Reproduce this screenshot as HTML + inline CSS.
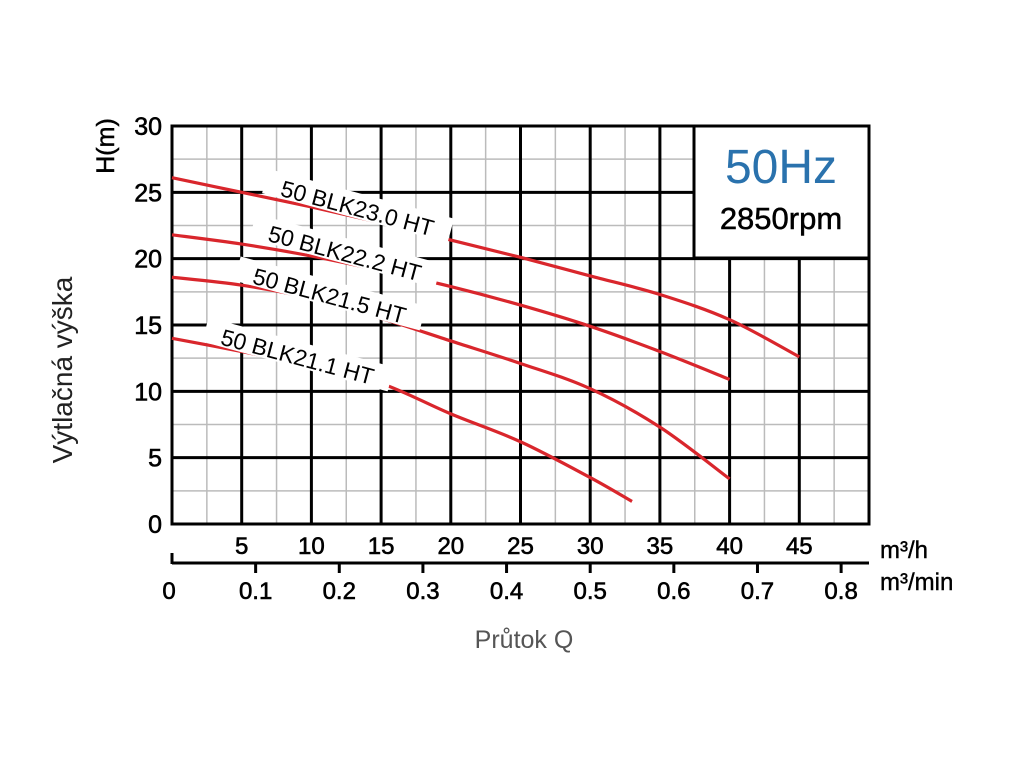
<!DOCTYPE html>
<html><head><meta charset="utf-8"><style>
body{margin:0;background:#fff}
svg{display:block;font-family:"Liberation Sans",Arial,sans-serif}
</style></head><body>
<svg id="chart" width="1024" height="768" viewBox="0 0 1024 768" xmlns="http://www.w3.org/2000/svg">
<g id="grid"></g>
<rect x="694" y="126" width="175" height="132" fill="#fff" stroke="#000" stroke-width="3"/>
<text x="781" y="183" text-anchor="middle" font-size="48" fill="#2a72ad">50Hz</text>
<text x="781" y="229" text-anchor="middle" font-size="31" fill="#000" stroke="#000" stroke-width="0.5">2850rpm</text>
<g id="curves"></g>
<g id="labels"></g>
<g id="axes"></g>
<text transform="translate(114,146) rotate(-90)" text-anchor="middle" font-size="25" fill="#000" stroke="#000" stroke-width="0.5">H(m)</text>
<text transform="translate(72,370) rotate(-90)" text-anchor="middle" font-size="28" fill="#222">Výtlačná výška</text>
<text x="524" y="648" text-anchor="middle" font-size="25" fill="#555">Průtok Q</text>
<text x="880" y="558" font-size="24" fill="#000" stroke="#000" stroke-width="0.4">m³/h</text>
<text x="880" y="590" font-size="24" fill="#000" stroke="#000" stroke-width="0.4">m³/min</text>
</svg>
<script>
const flowLabels=[5,10,15,20,25,30,35,40,45];
const headLabels=[0,5,10,15,20,25,30];
const minLabels=["0","0.1","0.2","0.3","0.4","0.5","0.6","0.7","0.8"];
const minValues=[0,0.1,0.2,0.3,0.4,0.5,0.6,0.7,0.8];
const names=["50 BLK23.0 HT","50 BLK22.2 HT","50 BLK21.5 HT","50 BLK21.1 HT"];
const q23=[0,5,10,15,20,25,30,35,40,45];
const h23=[26.1,25.0,23.9,22.7,21.4,20.1,18.7,17.3,15.4,12.6];
const q222=[0,5,10,15,20,25,30,35,40];
const h222=[21.8,21.1,20.2,19.1,17.9,16.5,14.9,13.0,10.9];
const q215=[0,5,10,15,20,25,30,35,40];
const h215=[18.6,18.0,17.0,15.5,13.8,12.1,10.2,7.3,3.4];
const q211=[0,5,10,15,20,25,30,33];
const h211=[14.0,13.0,11.9,10.6,8.3,6.2,3.5,1.7];
const labelPos=[[13.3,23.8],[12.4,20.4],[11.3,17.2],[9.0,12.6]];

const NS="http://www.w3.org/2000/svg";
const X0=172,X1=869,Y0=524,Y1=126;
const x=q=>X0+(q/50)*(X1-X0);
const y=h=>Y0-(h/30)*(Y0-Y1);
function mk(t,a,p){const e=document.createElementNS(NS,t);for(const k in a)e.setAttribute(k,a[k]);p.appendChild(e);return e;}
const grid=document.getElementById('grid');
for(let i=1;i<20;i++){if(i%2)
{const v=mk('line',{x1:x(i*2.5),x2:x(i*2.5),y1:Y1,y2:Y0,stroke:'#bbb','stroke-width':1.5},grid);

}}
for(let i=1;i<12;i++){if(i%2)
{const h=mk('line',{x1:X0,x2:X1,y1:y(i*2.5),y2:y(i*2.5),stroke:'#bbb','stroke-width':1.5},grid);

}}
for(let q=5;q<50;q+=5){
const v=mk('line',{x1:x(q),x2:x(q),y1:Y1,y2:Y0,stroke:'#000','stroke-width':3},grid);

}
for(let hh=5;hh<30;hh+=5){
const h=mk('line',{x1:X0,x2:X1,y1:y(hh),y2:y(hh),stroke:'#000','stroke-width':3},grid);

}
const frame=mk('rect',{x:X0,y:Y1,width:X1-X0,height:Y0-Y1,fill:'none',stroke:'#000','stroke-width':3},grid);



const curves=document.getElementById('curves');
const series=[[q23,h23],[q222,h222],[q215,h215],[q211,h211]];
function path(qs,hs){
 const p=qs.map((q,i)=>[x(q),y(hs[i])]);
 let d='M'+p[0][0]+','+p[0][1];
 for(let i=0;i<p.length-1;i++){
  const p0=p[i-1]||p[i],p1=p[i],p2=p[i+1],p3=p[i+2]||p2;
  const c1=[p1[0]+(p2[0]-p0[0])/6,p1[1]+(p2[1]-p0[1])/6];
  const c2=[p2[0]-(p3[0]-p1[0])/6,p2[1]-(p3[1]-p1[1])/6];
  d+=` C${c1[0]},${c1[1]} ${c2[0]},${c2[1]} ${p2[0]},${p2[1]}`;
 }
 return d;}
series.forEach((s,i)=>{
 const c=mk('path',{d:path(s[0],s[1]),fill:'none',stroke:'#d9262c','stroke-width':3.2},curves);
 
 
});
const labels=document.getElementById('labels');
names.forEach((n,i)=>{
 const cx=x(labelPos[i][0]),cy=y(labelPos[i][1]);
 const g=mk('g',{transform:`translate(${cx},${cy}) rotate(15)`},labels);
 
 
 mk('rect',{x:-96,y:-15,width:192,height:25,fill:'#fff'},g);
 const t=mk('text',{x:0,y:8,'text-anchor':'middle','font-size':23,fill:'#000'},g);
 t.textContent=n;
});
const axes=document.getElementById('axes');
headLabels.forEach(h=>{
 const t=mk('text',{x:162,y:y(h)+9,'text-anchor':'end','font-size':25,fill:'#000',stroke:'#000','stroke-width':0.6},axes);
 
 
 t.textContent=h;});
flowLabels.forEach(q=>{
 const t=mk('text',{x:x(q),y:554,'text-anchor':'middle','font-size':24,fill:'#000',stroke:'#000','stroke-width':0.6},axes);
 
 
 t.textContent=q;});
const al=mk('line',{x1:X0,x2:X1,y1:563,y2:563,stroke:'#000','stroke-width':3},axes);


mk('line',{x1:X0,x2:X0,y1:553,y2:564,stroke:'#000','stroke-width':3},axes);
minValues.forEach((m,i)=>{
 const px=x(m*60);
 if(i>0){const tk=mk('line',{x1:px,x2:px,y1:563,y2:573,stroke:'#000','stroke-width':3},axes);
 
 }
 const t=mk('text',{x:i===0?X0-3:px,y:599,'text-anchor':'middle','font-size':24,fill:'#000',stroke:'#000','stroke-width':0.6},axes);
 
 
 t.textContent=minLabels[i];});
</script>
</body></html>
